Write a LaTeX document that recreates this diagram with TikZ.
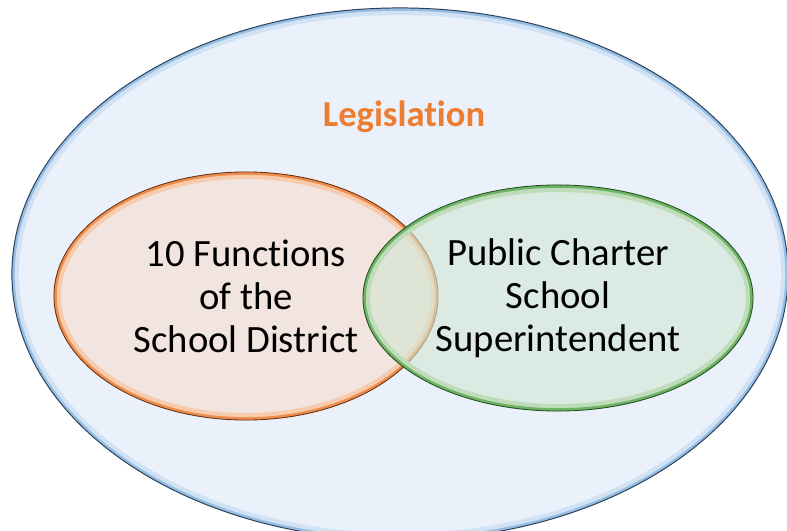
\documentclass[tikz,border=0pt]{standalone}
\usepackage{fontspec}
\setmainfont{Carlito}[Ligatures={NoCommon,NoContextual,NoRare}]
\usepackage{tikz}
\usetikzlibrary{positioning}
\usetikzlibrary{shapes.geometric}
\definecolor{fieldfill}{RGB}{234,241,250}
\definecolor{fieldglow}{RGB}{150,190,228}
\definecolor{fieldline}{RGB}{45,65,90}
\definecolor{orangefill}{RGB}{242,228,222}
\definecolor{orangeglow}{RGB}{238,140,75}
\definecolor{orangeline}{RGB}{100,50,20}
\definecolor{greenfill}{RGB}{210,230,211}
\definecolor{greenglow}{RGB}{110,178,100}
\definecolor{greenline}{RGB}{35,80,35}
\definecolor{legisorange}{RGB}{237,125,49}
\tikzset {
  % inner glow along the rim of an ellipse: {colour}{x radius}{y radius}
  glow/.style n args = {3}{path picture={
      \draw[#1!45, line width=10pt] (path picture bounding box.center) ellipse [x radius=#2, y radius=#3];
      \draw[#1, line width=4pt] (path picture bounding box.center) ellipse [x radius=#2, y radius=#3];
    }},
  % the large ellipse round everything
  field/.style = {ellipse, fill=fieldfill, draw=fieldline, line width=0.7pt,
    glow={fieldglow}{9.7cm}{6.65cm},
    minimum width=19.4cm, minimum height=13.3cm},
  % the two sets
  district/.style = {ellipse, fill=orangefill, draw=orangeline, line width=0.6pt,
    glow={orangeglow}{4.8cm}{3.1cm},
    minimum width=9.6cm, minimum height=6.2cm, inner sep=0pt,
    align=center, font=\fontsize{27.5}{30.5}\selectfont},
  charter/.style = {ellipse, fill=greenfill, fill opacity=0.6, text opacity=1,
    draw=greenline, line width=0.6pt, draw opacity=1,
    glow={greenglow}{4.875cm}{2.825cm},
    minimum width=9.75cm, minimum height=5.65cm, inner sep=0pt,
    align=center, font=\fontsize{27.5}{30.5}\selectfont},
  heading/.style = {text=legisorange, font=\fontsize{26}{30}\selectfont\bfseries},
}
\begin{document}
\begin{tikzpicture}[x=0.025cm, y=-0.025cm]
        \clip (0,0) rectangle (787,531);
        \fill[white] (0,0) rectangle (787,531);

        \node[field] (field) at (400,274) {};
        \node[heading] (legis) at (404,117) {Legislation};
        \node[district] (district) at (246,296) {10 Functions\\of the\\School District};
        \node[charter] (charter) at (558,298) {Public Charter\\School\\Superintendent};
      \end{tikzpicture}
\end{document}
